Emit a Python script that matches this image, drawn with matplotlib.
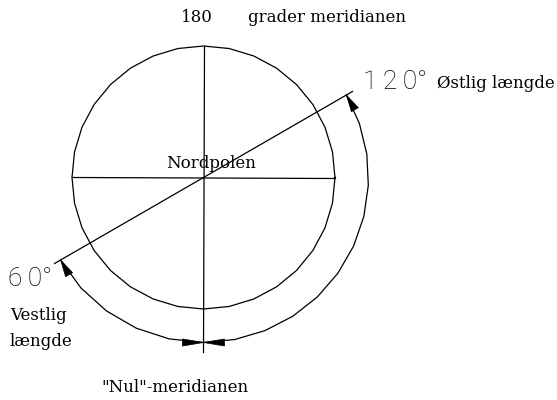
import numpy as np
import matplotlib
matplotlib.use("Agg")
import matplotlib.pyplot as plt
from matplotlib.patches import Polygon

# Meridian data (degrees of longitude, east positive)
meridians = [0, 180]          # the vertical line: Nul- and 180-meridian
east_lon = 120                # Østlig længde
west_lon = -60                # Vestlig længde
ring_labels = ["180", "grader meridianen", "Nordpolen", '"Nul"-meridianen']
east_labels = ["120°", "Østlig længde"]
west_labels = ["60°", "Vestlig", "længde"]

# drawing geometry in pixel units (y grows downwards)
cx, cy = 203.5, 177.5
r_globe = 131.5
r_dim = 165.0
r_line = 172.0
serif = "DejaVu Serif"
sans = ["Roboto", "DejaVu Sans"]


def lon_to_screen(lon):
    # nul meridian points down, east runs counter clockwise
    return np.deg2rad(270 + lon)


def pt(a, r):
    return cx + r * np.cos(a), cy - r * np.sin(a)


def seg_arc(a0, a1, r, step_deg=12.0):
    n = max(2, int(np.ceil(abs(np.rad2deg(a1 - a0)) / step_deg)) + 1)
    a = np.linspace(a0, a1, n)
    return cx + r * np.cos(a), cy - r * np.sin(a)


def arrow_head(a, r, toward, length=17, half=4.0):
    # tip on the arc at angle a, body pointing along the arc towards 'toward'
    tx, ty = pt(a, r)
    sgn = np.sign(toward - a)
    dx, dy = -np.sin(a) * sgn, -np.cos(a) * sgn
    bx, by = tx + dx * length, ty + dy * length
    nx, ny = -dy, dx
    return Polygon([(tx, ty), (bx + nx * half, by + ny * half),
                    (bx - nx * half, by - ny * half)],
                   closed=True, fc="black", ec="black", lw=0.5)


def spaced(s):
    # wide tracking like the CAD font of the original
    return "\u2009".join(s[:-1]) + s[-1]


fig = plt.figure(figsize=(5.57, 4.0), dpi=100)
ax = fig.add_axes([0, 0, 1, 1])
ax.set_xlim(0, 557)
ax.set_ylim(400, 0)
ax.set_aspect("equal")
ax.axis("off")

lw = 0.9

# the globe seen from above, drawn as a polygon like the original
ga = np.linspace(0, 2 * np.pi, 33)
ax.plot(cx + r_globe * np.cos(ga), cy - r_globe * np.sin(ga), color="black", lw=lw)

# vertical meridian line (180 at top, 0 at bottom running past the globe)
top = pt(lon_to_screen(meridians[1]), r_globe)
bot = pt(lon_to_screen(meridians[0]), 174.5)
ax.plot([top[0], bot[0]], [top[1], bot[1]], color="black", lw=lw)

# horizontal line (90 E / 90 W)
le = pt(lon_to_screen(-90), r_globe)
re = pt(lon_to_screen(90), r_globe)
ax.plot([le[0], re[0]], [le[1], re[1]], color="black", lw=lw)

# diagonal through 120 E and 60 W
a_e = lon_to_screen(east_lon)
a_w = lon_to_screen(west_lon)
p1 = pt(a_e, r_line)
p2 = pt(a_w, r_line)
ax.plot([p1[0], p2[0]], [p1[1], p2[1]], color="black", lw=lw)

# dimension arcs
a0 = lon_to_screen(meridians[0])
xs, ys = seg_arc(a0, a_e, r_dim)
ax.plot(xs, ys, color="black", lw=lw)
xs, ys = seg_arc(a_w, a0, r_dim)
ax.plot(xs, ys, color="black", lw=lw)

ax.add_patch(arrow_head(a_e, r_dim, a0))
ax.add_patch(arrow_head(a0, r_dim, a_e, length=21, half=3.5))
ax.add_patch(arrow_head(a_w, r_dim, a0))
ax.add_patch(arrow_head(a0, r_dim, a_w, length=21, half=3.5))

# texts
fs = 12
ax.text(197, 17, ring_labels[0], family=serif, fontsize=fs, ha="center", va="center")
ax.text(248, 17, ring_labels[1], family=serif, fontsize=fs, ha="left", va="center")
ax.text(211, 163, ring_labels[2], family=serif, fontsize=fs, ha="center", va="center")
ax.text(175, 388, ring_labels[3], family=serif, fontsize=fs, ha="center", va="center")

ax.text(363, 82, spaced(east_labels[0]), family=sans, fontweight="light", fontsize=19,
        color="black", ha="left", va="center")
ax.text(437, 84, east_labels[1], family=serif, fontsize=fs, ha="left", va="center")

ax.text(8, 279, spaced(west_labels[0]), family=sans, fontweight="light", fontsize=19,
        color="black", ha="left", va="center")
ax.text(10, 316, west_labels[1], family=serif, fontsize=fs, ha="left", va="center")
ax.text(10, 342, west_labels[2], family=serif, fontsize=fs, ha="left", va="center")

fig.savefig("out.png", dpi=100)
